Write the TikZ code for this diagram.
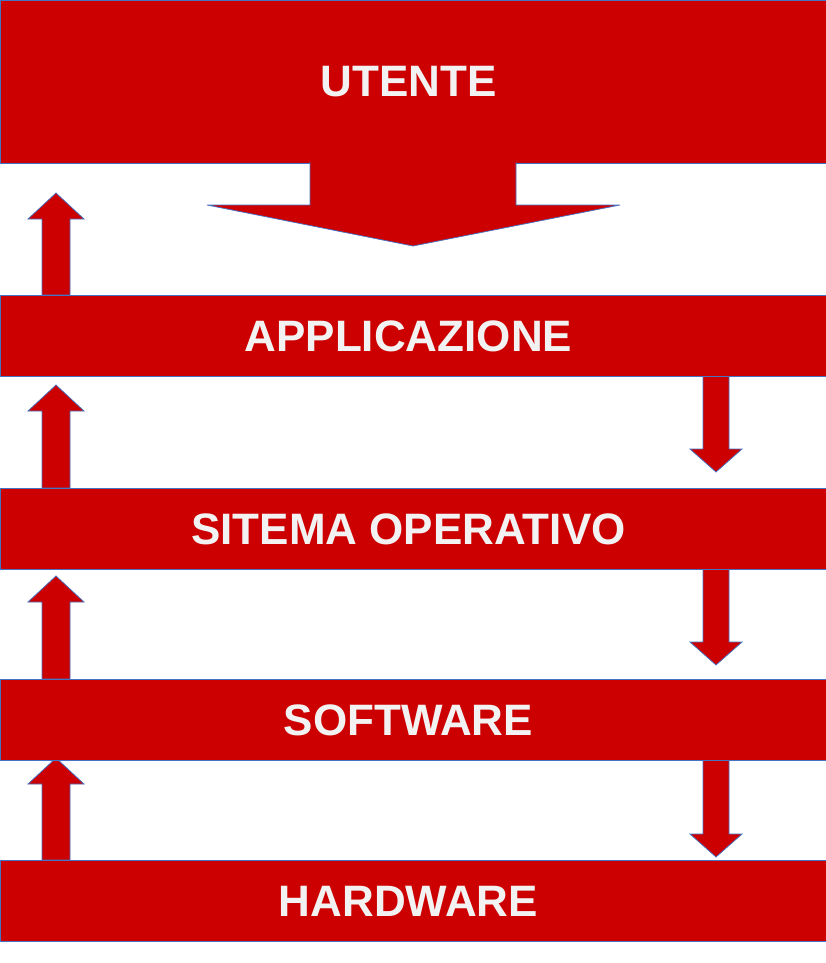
\documentclass[tikz,border=0pt]{standalone}
\usepackage{fontspec}
\setmainfont{Liberation Sans}
\definecolor{layerred}{HTML}{CC0000}
\definecolor{layerline}{HTML}{4472C4}
\definecolor{layertext}{HTML}{F2F2F2}
\tikzset{
  layer/.style={rectangle, anchor=north west, inner sep=0pt, minimum width=826pt,
    fill=layerred, draw=layerline, line width=0.75pt, text=layertext,
    font=\fontsize{44}{50}\selectfont\bfseries,
    execute at begin node={\hspace*{-10pt}}},
  blockarrow/.style={fill=layerred, draw=layerline, line width=0.75pt, line join=miter}
}
\begin{document}
\begin{tikzpicture}[x=1pt, y=-1pt]
  \useasboundingbox (0,0) rectangle (826,963);
  % arrows going up, left side
  \foreach \bot/\tip in {295/193, 488/385, 679/576, 860/758}
    \draw[blockarrow] (42,\bot) -- (42,\tip+26) -- (28,\tip+26) -- (56,\tip)
      -- (84,\tip+26) -- (70,\tip+26) -- (70,\bot) -- cycle;
  % arrows going down, right side
  \foreach \top/\tip in {376/472, 569/665, 760/857}
    \draw[blockarrow] (703,\top) -- (703,\tip-23) -- (690,\tip-23) -- (716,\tip)
      -- (742,\tip-23) -- (729,\tip-23) -- (729,\top) -- cycle;
  % layers
  \node[layer, minimum height=163pt] (utente) at (0,0) {UTENTE};
  \node[layer, minimum height=81pt] (app) at (0,295) {APPLICAZIONE};
  \node[layer, minimum height=81pt] (so) at (0,488) {SITEMA OPERATIVO};
  \node[layer, minimum height=81pt] (sw) at (0,679) {SOFTWARE};
  \node[layer, minimum height=81pt] (hw) at (0,860) {HARDWARE};
  % big arrow under the user
  \filldraw[blockarrow] (310,162) -- (310,205) -- (207,205) -- (413,246)
    -- (620,205) -- (516,205) -- (516,162);
\end{tikzpicture}
\end{document}
